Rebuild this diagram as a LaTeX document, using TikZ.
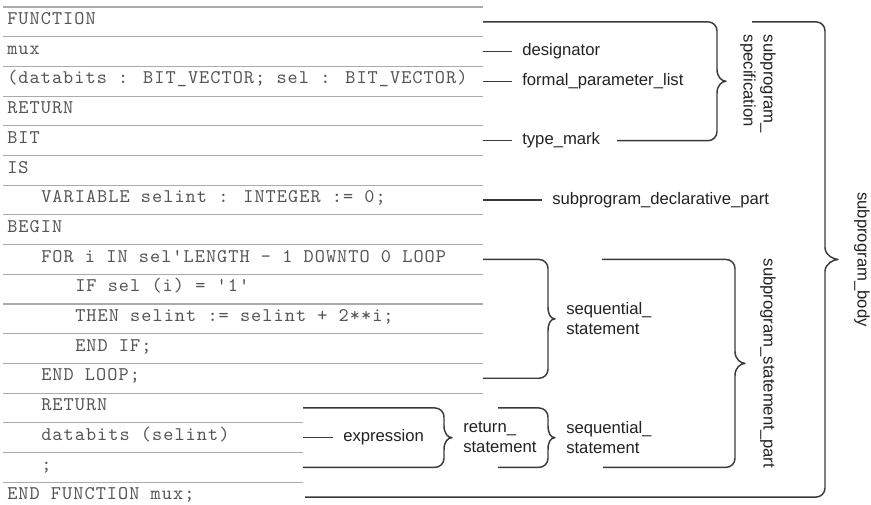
\documentclass[tikz,border=0pt]{standalone}
\usepackage{fontspec}
\setsansfont{Liberation Sans}
\newfontfamily\codefont[LetterSpace=5.4]{lmmono10-regular.otf}
\usetikzlibrary{calc}
\definecolor{codegray}{HTML}{555555}
\definecolor{rulegray}{HTML}{ABABAB}
\definecolor{ink}{HTML}{3A3A3A}
\definecolor{lblink}{HTML}{222222}
\tikzset{
  code/.style={anchor=base west, inner sep=0pt, text=codegray,
               font=\codefont\fontsize{14.5}{16}\selectfont},
  lbl/.style={anchor=west, inner sep=0pt, text=lblink, align=left,
              font=\sffamily\fontsize{12.5}{15}\selectfont},
  tag/.style={lbl, inner xsep=7.5pt},
  vlbl/.style={lbl, anchor=center, rotate=-90},
  rowrule/.style={draw=rulegray, line width=0.8pt},
  conn/.style={draw=ink, line width=1.1pt},
  bracket/.style={conn, line join=round}
}
% top arm x, bottom arm x, spine x, top y, bottom y, tip x
\newcommand{\codebrace}[6]{%
  \pgfmathsetmacro{\brmid}{(#4+#5)/2}
  \draw[bracket] (#1,#4) -- (#3-9,#4) .. controls (#3-4,#4) and (#3,#4+4) .. (#3,#4+9)
    -- (#3,\brmid-12) .. controls (#3,\brmid-4) and (#6-4,\brmid) .. (#6,\brmid)
    .. controls (#6-4,\brmid) and (#3,\brmid+4) .. (#3,\brmid+12)
    -- (#3,#5-9) .. controls (#3,#5-4) and (#3-4,#5) .. (#3-9,#5) -- (#2,#5);
}

\begin{document}
\begin{tikzpicture}[x=0.75pt,y=-0.75pt]
  \useasboundingbox (0,0) rectangle (871,504);

  % rules between the code rows
  \foreach \k in {0,...,13} \draw[rowrule] (3,7+29.7*\k) -- (483,7+29.7*\k);
  \foreach \k in {14,15,16} \draw[rowrule] (3,7+29.7*\k) -- (303,7+29.7*\k);

  % code
  \node[code] (fn)     at (7,24.55)   {FUNCTION};
  \node[code] (mux)    at (7,54.25)   {mux};
  \node[code] (params) at (7,83.95)   {(databits : BIT\_VECTOR; sel : BIT\_VECTOR)};
  \node[code] (ret)    at (7,113.65)  {RETURN};
  \node[code] (bit)    at (7,143.35)  {BIT};
  \node[code] (is)     at (7,173.05)  {IS};
  \node[code] (var)    at (41,202.75) {VARIABLE selint : INTEGER := 0;};
  \node[code] (begin)  at (7,232.45)  {BEGIN};
  \node[code] (for)    at (41,262.15) {FOR i IN sel'LENGTH - 1 DOWNTO 0 LOOP};
  \node[code] (if)     at (75,291.85) {IF sel (i) = '1'};
  \node[code] (then)   at (75,321.55) {THEN selint := selint + 2**i;};
  \node[code] (endif)  at (75,351.25) {END IF;};
  \node[code] (endlp)  at (41,380.95) {END LOOP;};
  \node[code] (ret2)   at (41,410.65) {RETURN};
  \node[code] (expr)   at (41,440.35) {databits (selint)};
  \node[code] (semi)   at (41,470.05) {;};
  \node[code] (endfn)  at (7,499.75)  {END FUNCTION mux;};

  % ends of the rows
  \coordinate (e1) at (483,51.55);
  \coordinate (e2) at (483,81.25);
  \coordinate (e4) at (483,140.65);
  \coordinate (e6) at (483,200.05);
  \coordinate (e14) at (303,437.65);

  % labels
  \node[tag] (desig) at (512,51.55)  {designator};
  \node[tag] (fpl)   at (512,81.25)  {formal\_parameter\_list};
  \node[tag] (tmark) at (512,140.65) {type\_mark};
  \node[tag] (decl)  at (542,200.05) {subprogram\_declarative\_part};
  \node[tag] (exprl) at (333,437.65) {expression};
  \node[lbl] (rets)  at (463,437.65) {return\_\\statement};
  \node[lbl] (seq1)  at (566,318.85) {sequential\_\\statement};
  \node[lbl] (seq2)  at (566,437.65) {sequential\_\\statement};
  \node[vlbl] (spec)  at (758,84)     {subprogram\_\\specification};
  \node[vlbl] (stmts) at (768,363.4)  {subprogram\_statement\_part};
  \node[vlbl] (body)  at (862,259.45) {subprogram\_body};

  \draw[conn] (e1) -- (e1 -| desig.west);
  \draw[conn] (e2) -- (e2 -| fpl.west);
  \draw[conn] (e4) -- (e4 -| tmark.west);
  \draw[conn] (e6) -- (e6 -| decl.west);
  \draw[conn] (e14) -- (e14 -| exprl.west);

  % braces
  \codebrace{483}{617}{717}{21.85}{140.65}{726}
  \codebrace{752}{305}{825}{21.85}{497.05}{838}
  \codebrace{483}{483}{548}{259.45}{378.25}{555}
  \codebrace{602}{603}{735}{259.45}{467.35}{745}
  \codebrace{303}{303}{444}{407.95}{467.35}{452}
  \codebrace{498}{498}{548}{407.95}{467.35}{555}
\end{tikzpicture}
\end{document}
